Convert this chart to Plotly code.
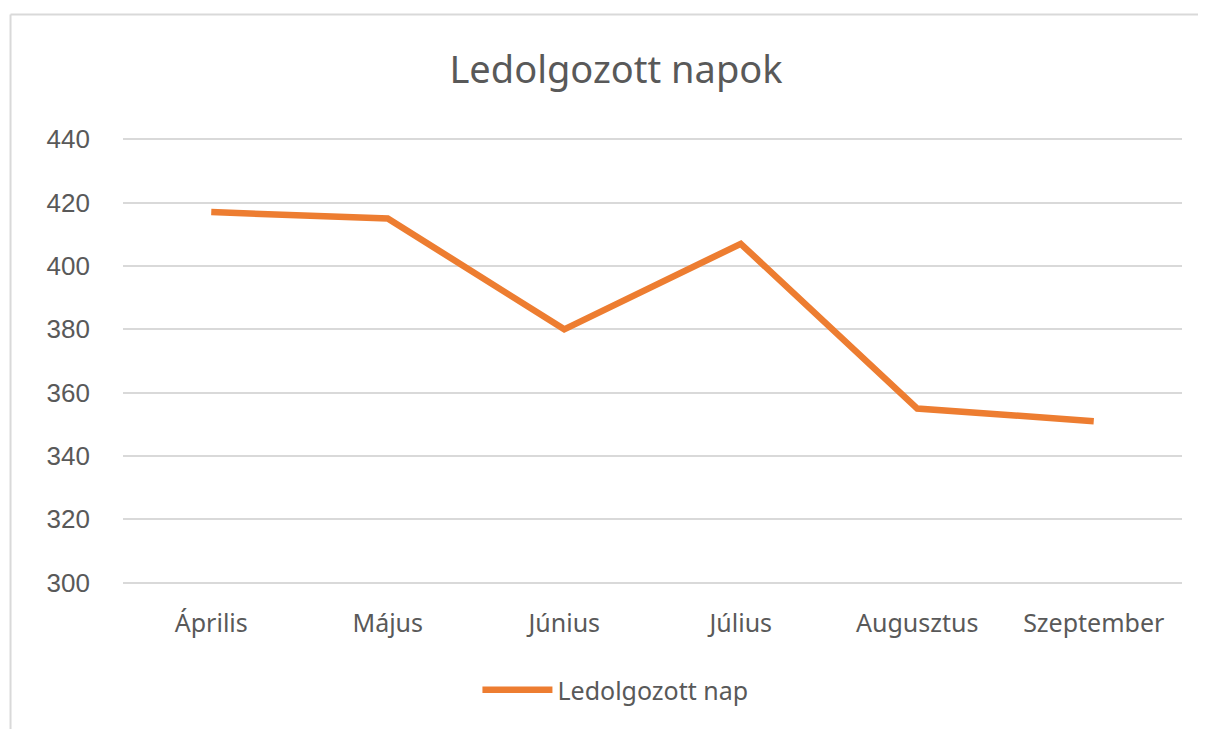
import plotly.graph_objects as go

months = ["Április", "Május", "Június", "Július", "Augusztus", "Szeptember"]
values = [417, 415, 380, 407, 355, 351]
series_name = "Ledolgozott nap"
title_text = "Ledolgozott napok"
y_ticks = [300, 320, 340, 360, 380, 400, 420, 440]

FONT = "Noto Sans"
NUMFONT = "Liberation Sans"
GREY = "#595959"

fig = go.Figure()
fig.add_trace(go.Scatter(
    x=months, y=values, mode="lines", name=series_name,
    line=dict(color="#ED7D31", width=6.5, shape="linear"),
))

fig.update_layout(
    width=1198, height=721,
    paper_bgcolor="white", plot_bgcolor="white",
    margin=dict(l=115, r=24, t=130, b=145),
    title=dict(text=title_text, x=0.5075, xanchor="center", y=0.914, yanchor="middle",
               font=dict(family=FONT, size=38, color=GREY)),
    font=dict(family=FONT, color=GREY),
    xaxis=dict(type="category", range=[-0.5, 5.5], showgrid=False, zeroline=False,
               showline=False, ticks="", ticklabelstandoff=22,
               tickfont=dict(family=FONT, size=25, color=GREY)),
    yaxis=dict(range=[299.6, 440.4], tickvals=y_ticks, showgrid=True, gridcolor="#d9d9d9",
               gridwidth=1.8, zeroline=False, showline=False, ticks="",
               ticklabelstandoff=32, tickfont=dict(family=NUMFONT, size=26, color=GREY)),
    showlegend=True,
    legend=dict(orientation="h", x=0.465, xanchor="center", y=-0.2377, yanchor="middle",
                font=dict(family=FONT, size=25, color=GREY), itemwidth=70),
    shapes=[
        dict(type="line", xref="paper", yref="paper", x0=-0.1062, x1=1.05, y0=1.277, y1=1.277,
             line=dict(color="#d9d9d9", width=2)),
        dict(type="line", xref="paper", yref="paper", x0=-0.1062, x1=-0.1062, y0=1.277, y1=-0.4,
             line=dict(color="#d9d9d9", width=2)),
    ],
)

fig.write_html("out.html")
